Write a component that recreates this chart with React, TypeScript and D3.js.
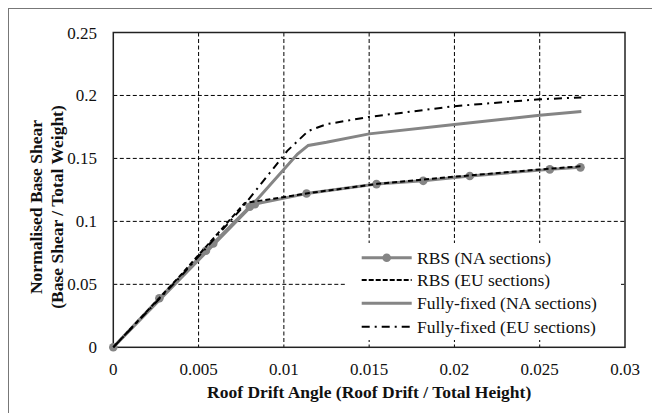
import React from "react";
import * as d3 from "d3";

const xTicks = [0, 0.005, 0.01, 0.015, 0.02, 0.025, 0.03];
const yTicks = [0, 0.05, 0.1, 0.15, 0.2, 0.25];

const rbsNA: [number, number][] = [
  [0, 0], [0.0027, 0.0389], [0.00543, 0.0767], [0.00586, 0.0825], [0.008, 0.1116],
  [0.0083, 0.1137], [0.01133, 0.1222], [0.01543, 0.1296], [0.01817, 0.1322],
  [0.0209, 0.136], [0.02559, 0.1413], [0.02739, 0.1429],
];
const rbsEU: [number, number][] = [
  [0, 0], [0.004, 0.058], [0.0077, 0.1145], [0.0115, 0.1225], [0.0155, 0.1298],
  [0.02, 0.1355], [0.025, 0.1412], [0.0274, 0.1437],
];
const ffNA: [number, number][] = [
  [0, 0], [0.004, 0.0555], [0.008, 0.1108], [0.0108, 0.1535], [0.01143, 0.1603],
  [0.0125, 0.1628], [0.015, 0.1695], [0.02, 0.177], [0.025, 0.1843], [0.02744, 0.1872],
];
const ffEU: [number, number][] = [
  [0, 0], [0.004, 0.057], [0.0075, 0.11], [0.0102, 0.156], [0.01143, 0.1718],
  [0.0125, 0.1772], [0.015, 0.183], [0.02, 0.1915], [0.025, 0.197], [0.02744, 0.1984],
];
const legendLabels = [
  "RBS (NA sections)",
  "RBS (EU sections)",
  "Fully-fixed (NA sections)",
  "Fully-fixed (EU sections)",
];

const W = 652, H = 413;
const L = 113.3, R = 625, T = 32.5, B = 347.3;
const GRAY = "#858585";
const FONT = "Liberation Serif, DejaVu Serif, Noto Serif, serif";

export default function App() {
  const x = d3.scaleLinear().domain([0, 0.03]).range([L, R]);
  const y = d3.scaleLinear().domain([0, 0.25]).range([B, T]);
  const line = d3.line<[number, number]>().x(d => x(d[0])).y(d => y(d[1]));

  const legX1 = 361.7, legX2 = 411.7, legTx = 417;
  const legY = [257.7, 280, 303.3, 326.7];
  const yTitleCy = 207;

  return (
    <svg width={W} height={H} style={{ position: "absolute", left: 0, top: 0, background: "#fff", fontFamily: FONT }}>
      <rect x={0} y={0} width={W} height={H} fill="#fff" />
      <line x1={8} y1={8.5} x2={W} y2={8.5} stroke="#777" strokeWidth={1} />
      <line x1={8.5} y1={8} x2={8.5} y2={H} stroke="#777" strokeWidth={1} />
      {xTicks.slice(1, -1).map(t => (
        <line key={"gx" + t} x1={x(t)} x2={x(t)} y1={T} y2={B} stroke="#000" strokeWidth={1} strokeDasharray="4,2.5" />
      ))}
      {yTicks.slice(1, -1).map(t => (
        <line key={"gy" + t} x1={L} x2={R} y1={y(t)} y2={y(t)} stroke="#000" strokeWidth={1} strokeDasharray="4,2.5" />
      ))}
      <rect x={347} y={243} width={274} height={97} fill="#fff" />
      <rect x={L} y={T} width={R - L} height={B - T} fill="none" stroke="#222" strokeWidth={1.5} />
      {xTicks.map(t => (
        <text key={"xl" + t} x={x(t)} y={375} textAnchor="middle" fontSize={17} fill="#111">{String(t)}</text>
      ))}
      {yTicks.map(t => (
        <text key={"yl" + t} x={97} y={y(t) + 6} textAnchor="end" fontSize={17} fill="#111">{String(t)}</text>
      ))}
      <text x={(L + R) / 2} y={397.5} textAnchor="middle" fontSize={17.5} fontWeight="bold" fill="#111">
        Roof Drift Angle (Roof Drift / Total Height)
      </text>
      <g transform={`translate(42, ${yTitleCy}) rotate(-90)`}>
        <text x={0} y={0} textAnchor="middle" fontSize={17.5} fontWeight="bold" fill="#111">Normalised Base Shear</text>
      </g>
      <g transform={`translate(63, ${yTitleCy}) rotate(-90)`}>
        <text x={0} y={0} textAnchor="middle" fontSize={17.5} fontWeight="bold" fill="#111">(Base Shear / Total Weight)</text>
      </g>
      <path d={line(ffNA) || ""} fill="none" stroke={GRAY} strokeWidth={3} />
      <path d={line(rbsNA) || ""} fill="none" stroke={GRAY} strokeWidth={3} />
      {rbsNA.map((d, i) => (
        <circle key={"m" + i} cx={x(d[0])} cy={y(d[1])} r={4.3} fill={GRAY} />
      ))}
      <path d={line(rbsEU) || ""} fill="none" stroke="#000" strokeWidth={2} strokeDasharray="5,3" />
      <path d={line(ffEU) || ""} fill="none" stroke="#000" strokeWidth={2} strokeDasharray="8,5,2,5" />
      <line x1={legX1} x2={legX2} y1={legY[0]} y2={legY[0]} stroke={GRAY} strokeWidth={3} />
      <circle cx={(legX1 + legX2) / 2} cy={legY[0]} r={4.3} fill={GRAY} />
      <line x1={legX1} x2={legX2} y1={legY[1]} y2={legY[1]} stroke="#000" strokeWidth={2} strokeDasharray="5,2" />
      <line x1={legX1} x2={legX2} y1={legY[2]} y2={legY[2]} stroke={GRAY} strokeWidth={3} />
      <line x1={legX1} x2={legX2} y1={legY[3]} y2={legY[3]} stroke="#000" strokeWidth={2} strokeDasharray="8,5,2,5" />
      {legendLabels.map((s, i) => (
        <text key={s} x={legTx} y={legY[i] + 6} fontSize={17.5} fill="#111">{s}</text>
      ))}
    </svg>
  );
}
